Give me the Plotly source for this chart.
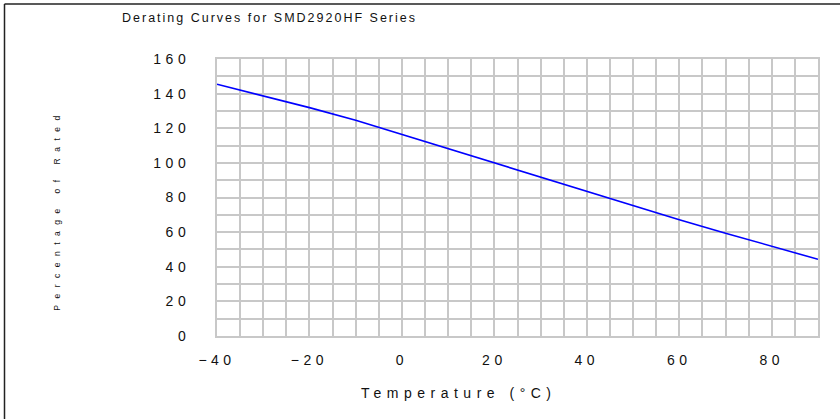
import plotly.graph_objects as go

# Data
temperature = [-40, -30, -20, -10, 0, 10, 20, 30, 40, 50, 60, 70, 80, 90]
percent_rated = [145.4, 138.6, 131.9, 124.6, 116.4, 108.0, 99.8, 91.5, 83.4, 75.3, 67.2, 59.4, 51.8, 44.3]

x_ticks = [-40, -20, 0, 20, 40, 60, 80]
y_ticks = [0, 20, 40, 60, 80, 100, 120, 140, 160]

title_text = "Derating Curves for SMD2920HF Series"
x_title = "Temperature (°C)"
y_title = "Percentage of Rated"

fig = go.Figure()
fig.add_trace(go.Scatter(x=temperature, y=percent_rated, mode="lines",
                         line=dict(color="#0000ff", width=1.6), showlegend=False,
                         hoverinfo="x+y"))

grid_c = "#c8c8c8"
font_f = "Liberation Sans, Arial, sans-serif"

fig.update_layout(
    width=840, height=419,
    margin=dict(l=217, r=22, t=59, b=83),
    paper_bgcolor="white", plot_bgcolor="white",
    font=dict(family=font_f, color="#111111", size=13),
    xaxis=dict(range=[-40, 90], tickvals=x_ticks, showgrid=True, gridcolor=grid_c, gridwidth=1.5,
               minor=dict(dtick=5, tick0=-40, showgrid=True, gridcolor=grid_c, gridwidth=1.5),
               zeroline=False, showline=True, linecolor=grid_c, linewidth=2, mirror=True,
               ticks="", ticklabelstandoff=10, tickfont=dict(size=14), fixedrange=True),
    yaxis=dict(range=[0, 160], tickvals=y_ticks, showgrid=True, gridcolor=grid_c, gridwidth=1.5,
               minor=dict(dtick=10, tick0=0, showgrid=True, gridcolor=grid_c, gridwidth=1.5),
               zeroline=False, showline=True, linecolor=grid_c, linewidth=2, mirror=True,
               ticks="", ticklabelstandoff=22, tickfont=dict(size=14), fixedrange=True),
    annotations=[
        dict(text=title_text, xref="paper", yref="paper", x=(269 - 217) / 601, y=1 + (59 - 18) / 277,
             xanchor="center", yanchor="middle", showarrow=False, font=dict(size=12.5)),
        dict(text=x_title, xref="paper", yref="paper", x=(459 - 217) / 601, y=-(393 - 336) / 277,
             xanchor="center", yanchor="middle", showarrow=False, font=dict(size=14)),
        dict(text=y_title, xref="paper", yref="paper", x=-(217 - 57) / 601, y=(336 - 210) / 277,
             xanchor="center", yanchor="middle", textangle=-90, showarrow=False, font=dict(size=8.5)),
    ],
    shapes=[
        dict(type="line", xref="paper", yref="paper", x0=-(217 - 4.5) / 601, x1=1 + 22 / 601,
             y0=1 + (59 - 4) / 277, y1=1 + (59 - 4) / 277, line=dict(color="#222222", width=1.5)),
        dict(type="line", xref="paper", yref="paper", x0=-(217 - 4.5) / 601, x1=-(217 - 4.5) / 601,
             y0=-83 / 277, y1=1 + (59 - 4) / 277, line=dict(color="#222222", width=1.5)),
    ],
)

post = """
document.body.style.margin = '0';
var gd = document.getElementById('{plot_id}');
function sp(){
  gd.querySelectorAll('.xtick text, .ytick text').forEach(function(t){ t.style.letterSpacing = '4.5px'; });
  var ls = ['2px', '5.5px', '6.5px'];
  gd.querySelectorAll('g.annotation').forEach(function(g){
    var i = +g.getAttribute('data-index');
    var t = g.querySelector('text');
    if (t && ls[i]) { t.style.letterSpacing = ls[i]; }
  });
}
sp();
if (gd.on) { gd.on('plotly_afterplot', sp); }
"""

fig.write_html("out.html", post_script=post, config={"displayModeBar": False})
